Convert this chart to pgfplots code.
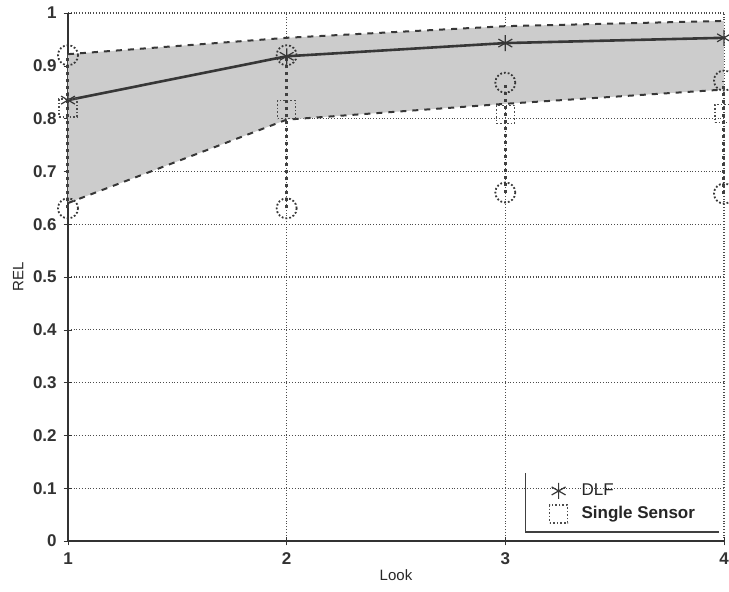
\documentclass[border=0pt]{standalone}
\usepackage{pgfplots}
\pgfplotsset{compat=1.18}
\usepgfplotslibrary{fillbetween}
\usepackage{fontspec}
\setmainfont{Liberation Sans}
\definecolor{linegray}{RGB}{55,55,55}
\begin{document}
\begin{tikzpicture}
\begin{axis}[
  scale only axis, width=328pt, height=264pt,
  anchor=south west, at={(0,0)},
  xmin=1, xmax=4, ymin=0, ymax=1,
  xtick={1,2,3,4}, ytick={0,0.1,0.2,0.3,0.4,0.5,0.6,0.7,0.8,0.9,1},
  yticklabels={0,0.1,0.2,0.3,0.4,0.5,0.6,0.7,0.8,0.9,1},
  axis lines=left, axis line style={-, thick, black!80},
  grid=major, grid style={densely dotted, black!70, line width=0.6pt},
  tick style={black!80},
  tick label style={font=\fontsize{8.5}{10}\selectfont\bfseries, text=black!80},
  /pgf/number format/assume math mode=true,
  xlabel={Look}, ylabel={REL},
  label style={font=\fontsize{7.5}{9}\selectfont, text=black!85},
  xlabel style={yshift=4pt},
  ylabel style={yshift=-2pt},
  clip=false,
  legend style={name=leg, at={(0.697,0.017)}, anchor=south west, draw=none,
    font=\fontsize{8.5}{10}\selectfont\bfseries, fill=none,
    inner xsep=12pt, inner ysep=3pt, row sep=0pt, column sep=5pt, text=black!85},
  legend cell align=left,
]
\addplot[name path=upper, dashed, line width=1pt, linegray, forget plot]
  coordinates {(1,0.922) (2,0.953) (3,0.975) (4,0.985)};
\addplot[name path=lower, dashed, line width=1pt, linegray, forget plot]
  coordinates {(1,0.640) (2,0.798) (3,0.828) (4,0.855)};
\addplot[black!20, forget plot] fill between[of=upper and lower];
\addplot[line width=1.3pt, linegray, forget plot]
  coordinates {(1,0.835) (2,0.918) (3,0.943) (4,0.953)};
% single sensor error bars
\addplot[dotted, line width=1.5pt, black!75, forget plot] coordinates {(1,0.63) (1,0.92)};
\addplot[dotted, line width=1.5pt, black!75, forget plot] coordinates {(2,0.63) (2,0.92)};
\addplot[dotted, line width=1.5pt, black!75, forget plot] coordinates {(3,0.66) (3,0.868)};
\addplot[dotted, line width=1.5pt, black!75, forget plot] coordinates {(4,0.658) (4,0.872)};
\addplot[only marks, mark=o, mark size=5pt, mark options={densely dotted, line width=0.9pt, linegray}, forget plot]
  coordinates {(1,0.92) (2,0.92) (3,0.868) (4,0.872) (1,0.63) (2,0.63) (3,0.66) (4,0.658)};
\addplot[only marks, mark=asterisk, mark size=4pt, mark options={line width=0.6pt, linegray}]
  coordinates {(1,0.835) (2,0.918) (3,0.943) (4,0.953)};
\addlegendentry{\mdseries DLF}
\addplot[only marks, mark=square, mark size=4.5pt, mark options={densely dotted, line width=0.8pt, black!70}]
  coordinates {(1,0.82) (2,0.817) (3,0.808) (4,0.81)};
\addlegendentry{Single Sensor}
\end{axis}
\draw[black!75, line width=0.6pt] (leg.north west) -- (leg.south west) -- ([xshift=-2pt]leg.south east);
\pgfresetboundingbox
\path[use as bounding box] (-34pt,-25.5pt) rectangle (330.5pt,270.5pt);
\end{tikzpicture}
\end{document}
